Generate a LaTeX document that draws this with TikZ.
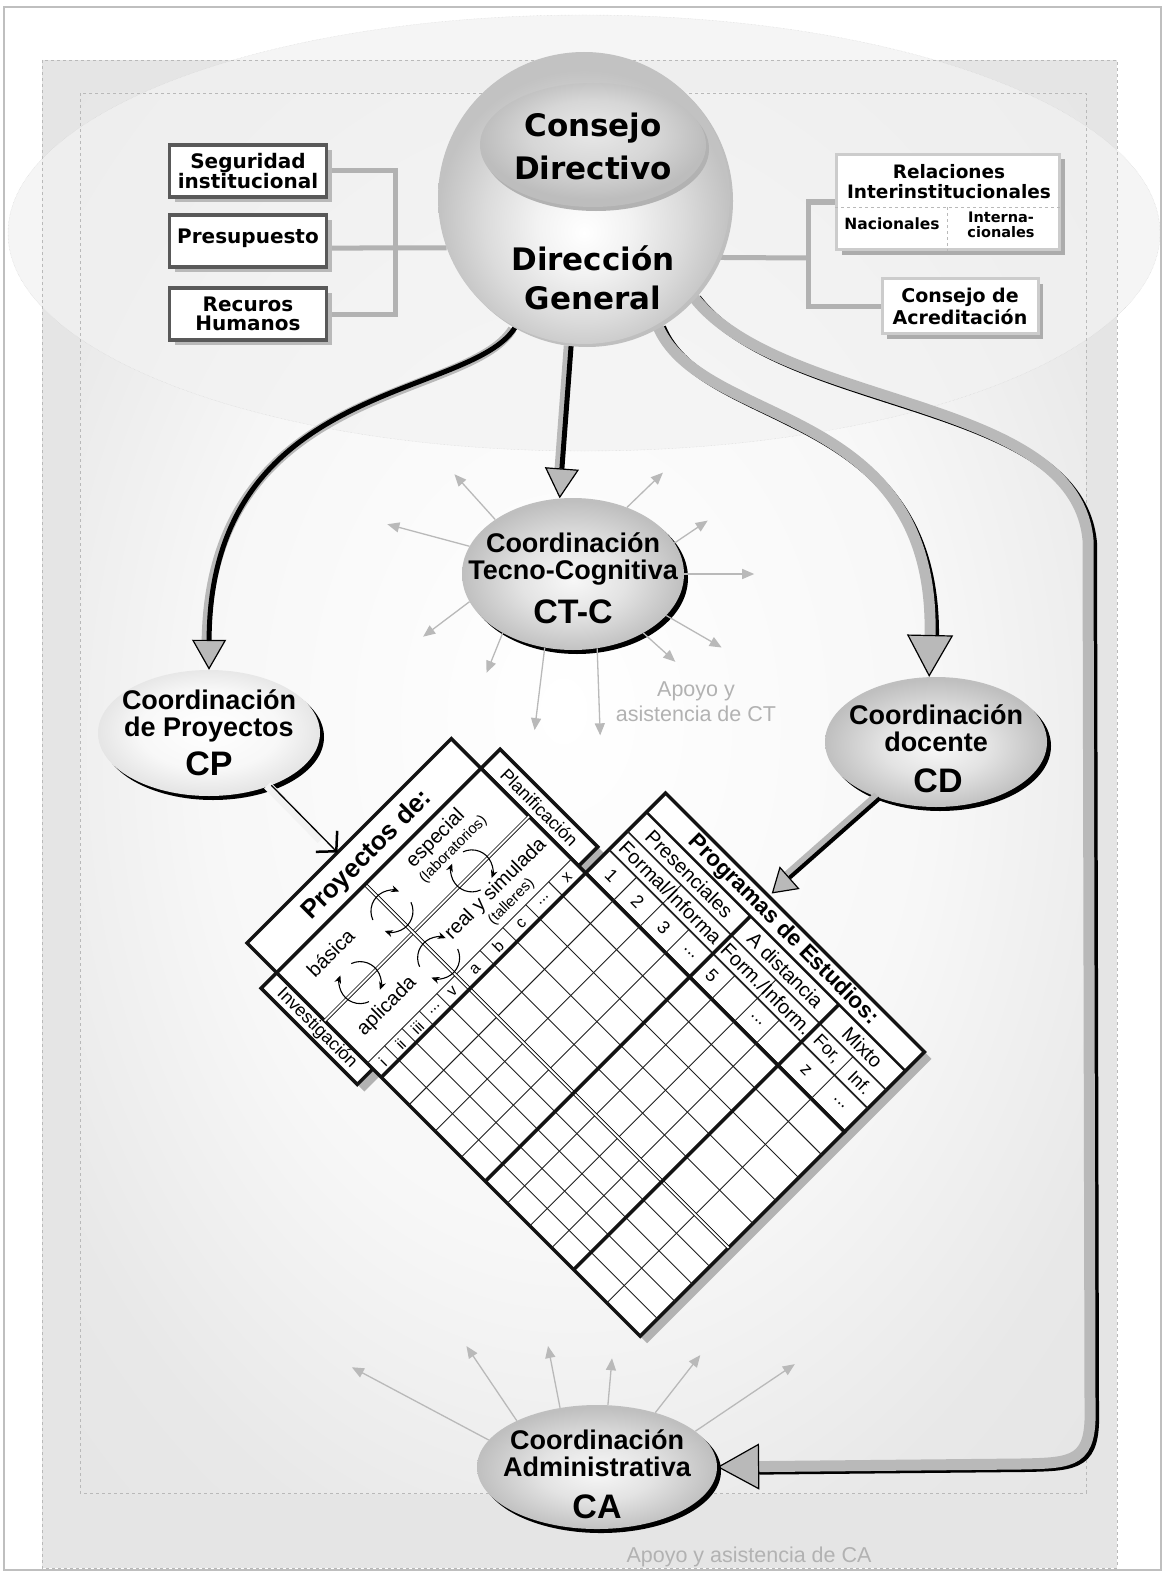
\documentclass[tikz,border=0pt]{standalone}
\usepackage{fontspec}
\setmainfont{DejaVu Sans}
\newfontfamily\arialfont{Liberation Sans}
\usetikzlibrary{shapes.geometric, arrows.meta, shadows}

\pgfdeclarelayer{back}
\pgfdeclarelayer{mid}
\pgfsetlayers{back,mid,main}

\pgfdeclareradialshading{sphere}{\pgfpoint{0bp}{-6bp}}{color(0bp)=(white); color(8bp)=(gray!10); color(17bp)=(gray!28); color(25bp)=(gray!48); color(50bp)=(gray!48)}
\pgfdeclareradialshading{cdir}{\pgfpoint{0bp}{6bp}}{color(0bp)=(gray!18); color(14bp)=(gray!32); color(25bp)=(gray!52); color(50bp)=(gray!52)}
\pgfdeclareradialshading{egg}{\pgfpoint{0bp}{-2bp}}{color(0bp)=(gray!6); color(12bp)=(gray!22); color(25bp)=(gray!50); color(50bp)=(gray!50)}
\pgfdeclareradialshading{pale}{\pgfpoint{0bp}{2bp}}{color(0bp)=(white); color(16bp)=(gray!6); color(25bp)=(gray!20); color(50bp)=(gray!20)}
\pgfdeclareradialshading{field}{\pgfpoint{-1bp}{3bp}}{color(0bp)=(white); color(18bp)=(gray!6); color(30bp)=(gray!18); color(50bp)=(gray!24)}

\tikzset{
    leftbox/.style={draw=gray!70!black, line width=3.5pt, fill=white, inner sep=0pt, align=center,
        minimum width=157pt, minimum height=52pt, font=\bfseries\fontsize{20}{19}\selectfont,
        drop shadow={shadow xshift=5pt, shadow yshift=-5pt, opacity=1, fill=gray!55}},
    rightbox/.style={draw=gray!40, line width=3pt, fill=white, inner sep=0pt,
        drop shadow={shadow xshift=5pt, shadow yshift=-5pt, opacity=1, fill=gray!65}},
    coord/.style={ellipse, inner sep=0pt, shade, shading=egg,
        drop shadow={shadow xshift=4pt, shadow yshift=-4pt, opacity=1, fill=black}},
    ctext/.style={align=center, font=\arialfont\bfseries\fontsize{27}{27}\selectfont},
    abbr/.style={font=\arialfont\bfseries\fontsize{34}{34}\selectfont},
    link/.style={draw=gray!60, line width=5pt},
    ray/.style={draw=gray!55, line width=1.3pt, -{Triangle[width=10pt, length=12pt]}},
    note/.style={text=gray!60, align=center, font=\arialfont\fontsize{21.5}{25}\selectfont},
    fatdark/.style={draw=black, line width=5pt, -{Triangle[width=34pt, length=30pt, fill=gray!55, line width=1.2pt]}},
    darkedge/.style={draw=gray!55, line width=9pt, transform canvas={shift={(-3pt, -2pt)}}},
    fatlight/.style={draw=gray!55, line width=11pt, -{Triangle[width=46pt, length=42pt, color=black, fill=gray!55, line width=1.2pt]}},
    lightedge/.style={draw=black, line width=10pt, transform canvas={shift={(4pt, -3pt)}}},
    tbl/.style={draw=gray!15!black, line width=3.5pt},
    cell/.style={draw=gray!25!black, line width=0.9pt},
    dbl/.style={draw=black, line width=0.8pt, double=white, double distance=2pt},
    tt/.style={inner sep=0pt, font=\arialfont\fontsize{18}{18}\selectfont},
    cyc/.style={draw=black, line width=1.1pt, -{Stealth[length=8pt, width=7pt]}},
}

\begin{document}
\begin{tikzpicture}[x=1pt, y=-1pt]
\useasboundingbox (0, 0) rectangle (1165, 1573);

\begin{pgfonlayer}{back}
    \fill[white] (0, 0) rectangle (1165, 1573);
    \fill[gray!20] (42, 60) rectangle (1117, 1568);
    \shade[shading=field] (80, 93) rectangle (1086, 1493);
    \fill[gray!10, opacity=0.7] (584, 233) ellipse [x radius=576, y radius=218];
    \draw[gray!35, densely dotted] (584, 233) ellipse [x radius=576, y radius=218];
    \draw[gray!55, dashed] (42, 60) rectangle (1117, 1568);
    \draw[gray!55, dashed] (80, 93) rectangle (1086, 1493);
    \draw[gray!50, line width=2pt] (4, 7) rectangle (1161, 1570);
\end{pgfonlayer}

\node[circle, minimum size=292pt, inner sep=0pt, shade, shading=sphere,
    drop shadow={shadow xshift=3pt, shadow yshift=-3pt, opacity=1, fill=gray!50}] at (584, 198) (DG) {};
\node[ellipse, minimum width=226pt, minimum height=124pt, inner sep=0pt, shade, shading=cdir,
    drop shadow={shadow xshift=3pt, shadow yshift=-4pt, opacity=1, fill=gray!60}] at (593, 145) (CDir) {};
\node[align=center, font=\bfseries\fontsize{31}{43}\selectfont] at (593, 146) (CDirT) {Consejo\\Directivo};
\node[align=center, font=\bfseries\fontsize{31}{39}\selectfont] at (593, 278) (DGT) {Dirección\\General};

\node[leftbox] at (248, 171) (SI) {Seguridad\\institucional};
\node[leftbox, text depth=9pt] at (248, 241) (PR) {Presupuesto};
\node[leftbox] at (248, 314) (RH) {Recuros\\Humanos};

\node[rightbox, minimum width=223pt, minimum height=95pt] at (948, 202) (RI) {};
\node[align=center, font=\bfseries\fontsize{18.5}{20}\selectfont] at (949, 182) (RIT) {Relaciones\\Interinstitucionales};
\coordinate (RIM) at (947, 207);
\draw[dashed, gray!55, line width=0.8pt] (RI.west |- RIM) -- (RI.east |- RIM);
\draw[dashed, gray!55, line width=0.8pt] (RIM) -- (RIM |- RI.south);
\node[font=\bfseries\fontsize{15.5}{15}\selectfont] at (892, 224) (NAC) {Nacionales};
\node[align=center, font=\bfseries\fontsize{14.5}{15}\selectfont] at (1001, 225) (INT) {Interna-\\cionales};
\node[rightbox, align=center, minimum width=156pt, minimum height=55pt,
    font=\bfseries\fontsize{19}{22}\selectfont] at (960, 306) (CAcr) {Consejo de\\Acreditación};
\coordinate (LJ) at (395, 248);
\coordinate (RJ) at (808, 258);

\node[coord, minimum width=222pt, minimum height=152pt] at (573, 574) (CTC) {};
\node[ctext] at (573, 559) (CTCT) {Coordinación\\Tecno-Cognitiva};
\node[abbr] at (573, 612) (CTCA) {CT-C};
\node[coord, shading=pale, minimum width=222pt, minimum height=126pt] at (209, 733) (CP) {};
\node[ctext] at (209, 716) (CPT) {Coordinación\\de Proyectos};
\node[abbr] at (209, 764) (CPA) {CP};
\node[coord, minimum width=222pt, minimum height=130pt] at (936, 742) (CD) {};
\node[ctext] at (936, 728) (CDT) {Coordinación\\docente};
\node[abbr] at (938, 781) (CDA) {CD};
\node[coord, minimum width=240pt, minimum height=124pt] at (597, 1467) (CA) {};
\node[ctext] at (597, 1453) (CAT) {Coordinación\\Administrativa};
\node[abbr] at (597, 1507) (CAA) {CA};

\node[note] at (696, 702) (ACT) {Apoyo y\\asistencia de CT};
\node[note, anchor=west] at (623, 1557) (ACA) {Apoyo y asistencia de CA};

\begin{scope}[shift={(247, 943)}, rotate=-45, x=1pt, y=1pt]
    \fill[gray!60, shift={(10, 0)}] (0, 0) -- (0, 289) -- (42, 289) -- (42, 316) -- (190, 316) -- (190, 402)
        -- (556, 402) -- (556, 0) -- (178, 0) -- (178, -22) -- (42, -22) -- (42, 0) -- cycle;
    \draw[tbl, fill=white] (42, -22) rectangle (178, 0);
    \draw[tbl, fill=white] (42, 289) rectangle (180, 316);
    \draw[tbl, fill=white] (190, 289) rectangle (556, 402);
    \draw[tbl, fill=white] (0, 0) rectangle (556, 289);
    \foreach \b in {24.6, 49.2, 73.8, 98.4, 159.4, 191.8, 224.2, 256.6}
        \draw[cell] (170, \b) -- (556, \b);
    \draw[cell] (170, 0) -- (170, 289);
    \foreach \a in {229, 266, 303, 368, 400, 431, 509}
        \draw[cell] (\a, 0) -- (\a, 322);
    \foreach \a in {266, 400, 509}
        \draw[cell] (\a, 322) -- (\a, 348);
    \draw[cell, line width=1.6pt] (190, 322) -- (556, 322);
    \draw[cell, line width=1.6pt] (190, 348) -- (556, 348);
    \draw[tbl, line width=2.5pt] (190, 375) -- (556, 375);
    \draw[dbl] (110, 0) -- (110, 289);
    \draw[dbl] (42, 125) -- (556, 125);
    \draw[tbl] (42, 0) -- (42, 289);
    \draw[tbl] (190, 0) -- (190, 289);
    \foreach \a in {337, 462}
        \draw[tbl] (\a, 0) -- (\a, 375);

    \foreach \ca/\cb in {108/52, 108/210} {
        \draw[cyc] (\ca, \cb) ++(160:21) arc[start angle=160, end angle=25, radius=21];
        \draw[cyc] (\ca, \cb) ++(340:21) arc[start angle=340, end angle=205, radius=21];
    }
    \foreach \ca/\cb in {80/125, 146/125} {
        \draw[cyc] (\ca, \cb) ++(250:21) arc[start angle=250, end angle=115, radius=21];
        \draw[cyc] (\ca, \cb) ++(70:21) arc[start angle=70, end angle=-65, radius=21];
    }

    \node[tt, rotate=45, font=\arialfont\bfseries\fontsize{26}{26}\selectfont] at (23, 147) (PDE) {Proyectos de:};
    \node[tt, rotate=-45] at (110, -11) (INV) {Investigación};
    \node[tt, rotate=-45] at (111, 302.5) (PLA) {Planificación};
    \node[tt, rotate=45, font=\arialfont\fontsize{20}{20}\selectfont] at (66, 52) (BAS) {básica};
    \node[tt, rotate=45, font=\arialfont\fontsize{20}{20}\selectfont] at (144, 54) (APL) {aplicada};
    \node[tt, rotate=45, font=\arialfont\fontsize{20}{20}\selectfont] at (60, 207) (ESP) {especial};
    \node[tt, rotate=45, font=\arialfont\fontsize{15}{15}\selectfont] at (80, 212) (LAB) {(laboratorios)};
    \node[tt, rotate=45, font=\arialfont\fontsize{20}{20}\selectfont] at (138, 214) (RYS) {real y simulada};
    \node[tt, rotate=45, font=\arialfont\fontsize{15}{15}\selectfont] at (158, 216) (TAL) {(talleres)};
    \foreach \b/\t in {12/i, 37/ii, 61/iii, 111/v, 143/a, 175/b, 208/c, 273/x}
        \node[tt, rotate=45, font=\arialfont\fontsize{16}{16}\selectfont] at (180, \b) {\t};
    \node[tt, rotate=45, font=\arialfont\fontsize{16}{16}\selectfont] at (180, 86) {...};
    \node[tt, rotate=45, font=\arialfont\fontsize{16}{16}\selectfont] at (180, 240) {...};

    \node[tt, rotate=-45, font=\arialfont\bfseries\fontsize{22.5}{22.5}\selectfont] at (370, 388.5) (PDEST) {Programas de Estudios:};
    \node[tt, rotate=-45, font=\arialfont\fontsize{20}{20}\selectfont] at (264, 361.5) (PRES) {Presenciales};
    \node[tt, rotate=-45, font=\arialfont\fontsize{20}{20}\selectfont] at (400, 361.5) (DIST) {A distancia};
    \node[tt, rotate=-45, font=\arialfont\fontsize{20}{20}\selectfont] at (509, 361.5) (MIX) {Mixto};
    \node[tt, rotate=-45, font=\arialfont\fontsize{20}{20}\selectfont] at (264, 335) (FI1) {Formal/Informa};
    \node[tt, rotate=-45, font=\arialfont\fontsize{20}{20}\selectfont] at (400, 335) (FI2) {Form./Inform.};
    \node[tt, rotate=-45] at (485, 335) (FI3) {For,};
    \node[tt, rotate=-45] at (532, 335) (FI4) {Inf.};
    \foreach \a/\t in {210/1, 247/2, 284/3, 352/5, 485/z}
        \node[tt, rotate=-45] at (\a, 305.5) {\t};
    \foreach \a in {320, 415, 532}
        \node[tt, rotate=-45] at (\a, 305.5) {...};

    \coordinate (PROY) at (0, 128);
    \coordinate (PROG) at (336, 406);
\end{scope}

\begin{pgfonlayer}{mid}
    \draw[link] (SI.east) -| (LJ) |- (RH.east);
    \draw[link] (PR.east |- LJ) -- (DG.200);
    \draw[link] (DG.336) -- (RJ);
    \draw[link] (RI.west) -| (RJ) |- (CAcr.west);
    \draw[darkedge, shorten >=26pt] (DG.242) .. controls (470, 400) and (210, 380) .. (CP.90);
    \draw[fatdark] (DG.242) .. controls (470, 400) and (210, 380) .. (CP.90);
    \draw[darkedge, shorten >=26pt] (DG.265) -- (CTC.100);
    \draw[fatdark] (DG.265) -- (CTC.100);
    \draw[lightedge, shorten >=38pt] (DG.300) .. controls (700, 430) and (935, 400) .. (CD.96);
    \draw[fatlight] (DG.300) .. controls (700, 430) and (935, 400) .. (CD.96);
    \draw[lightedge, shorten >=38pt] (DG.318) .. controls (780, 410) and (1075, 395) .. (1088, 540)
        -- (1090, 1405) .. controls (1092, 1462) and (1075, 1463) .. (1020, 1464) -- (CA.east);
    \draw[fatlight] (DG.318) .. controls (780, 410) and (1075, 395) .. (1088, 540)
        -- (1090, 1405) .. controls (1092, 1462) and (1075, 1463) .. (1020, 1464) -- (CA.east);
\end{pgfonlayer}

\draw[line width=9pt, gray!10, shorten >=18pt, transform canvas={shift={(-4pt, 0pt)}}] (CP.-40) -- (PROY);
\draw[line width=1.3pt, -{Straight Barb[length=14pt, width=30pt, line width=2.5pt]}] (CP.-40) -- (PROY);
\draw[line width=7pt, gray!55, shorten >=22pt, transform canvas={shift={(-3pt, 3pt)}}] (CD.225) -- (PROG);
\draw[line width=4pt, -{Triangle[width=30pt, length=24pt, fill=gray!55, line width=1.2pt]}] (CD.225) -- (PROG);

\foreach \s/\d/\l in {145/132/61, 165/165/85, 195/217/58, 220/248/43, 249/263/83, 288/272/87,
        320/318/43, 336/330/64, 0/0/70, 17/34/40, 51/44/50}
    \draw[ray] (CTC.\s) -- ++({\l*cos(\d)}, {-\l*sin(\d)});
\foreach \s/\d/\l in {166/152/155, 150/124/90, 122/101/63, 80/85/47, 43/52/73, 20/34/120}
    \draw[ray] (CA.\s) -- ++({\l*cos(\d)}, {-\l*sin(\d)});
\end{tikzpicture}
\end{document}
